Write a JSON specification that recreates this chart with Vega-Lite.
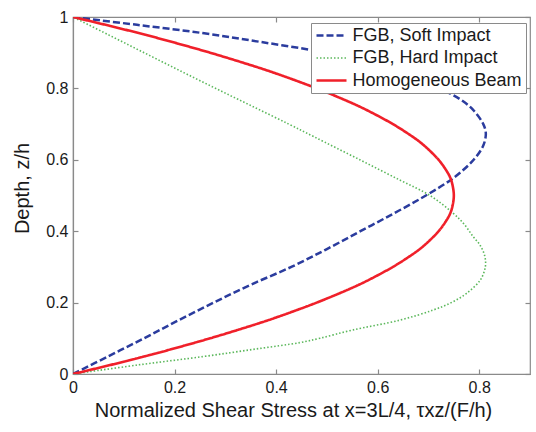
{
  "$schema": "https://vega.github.io/schema/vega-lite/v6.json",
  "width": 457,
  "height": 357,
  "autosize": {"type": "none"},
  "padding": {"left": 73, "top": 17, "right": 6, "bottom": 58},
  "background": "white",
  "config": {
    "font": "Liberation Sans",
    "view": {"stroke": "#8a8a8a", "strokeWidth": 1.2},
    "axis": {
      "grid": false,
      "labelFlush": false,
      "domainColor": "#8a8a8a",
      "domainWidth": 1.2,
      "tickColor": "#8a8a8a",
      "tickWidth": 1.2,
      "tickSize": -5,
      "labelFont": "Liberation Sans",
      "labelFontSize": 16,
      "labelColor": "#1a1a1a",
      "titleFont": "Liberation Sans",
      "titleFontSize": 20,
      "titleFontWeight": "normal",
      "titleColor": "#1a1a1a"
    },
    "legend": {
      "labelFont": "Liberation Sans",
      "labelFontSize": 18,
      "labelColor": "#1a1a1a",
      "labelLimit": 300
    }
  },
  "data": {
    "values": [
      {"s": "FGB, Soft Impact", "z": 0, "t": 0},
      {"s": "FGB, Soft Impact", "z": 0.05, "t": 0.07},
      {"s": "FGB, Soft Impact", "z": 0.1, "t": 0.14},
      {"s": "FGB, Soft Impact", "z": 0.15, "t": 0.207},
      {"s": "FGB, Soft Impact", "z": 0.2, "t": 0.277},
      {"s": "FGB, Soft Impact", "z": 0.25, "t": 0.35},
      {"s": "FGB, Soft Impact", "z": 0.3, "t": 0.43},
      {"s": "FGB, Soft Impact", "z": 0.35, "t": 0.5},
      {"s": "FGB, Soft Impact", "z": 0.4, "t": 0.566},
      {"s": "FGB, Soft Impact", "z": 0.45, "t": 0.632},
      {"s": "FGB, Soft Impact", "z": 0.5, "t": 0.695},
      {"s": "FGB, Soft Impact", "z": 0.55, "t": 0.75},
      {"s": "FGB, Soft Impact", "z": 0.6, "t": 0.789},
      {"s": "FGB, Soft Impact", "z": 0.64, "t": 0.808},
      {"s": "FGB, Soft Impact", "z": 0.674, "t": 0.813},
      {"s": "FGB, Soft Impact", "z": 0.7, "t": 0.808},
      {"s": "FGB, Soft Impact", "z": 0.74, "t": 0.788},
      {"s": "FGB, Soft Impact", "z": 0.77, "t": 0.762},
      {"s": "FGB, Soft Impact", "z": 0.8, "t": 0.722},
      {"s": "FGB, Soft Impact", "z": 0.83, "t": 0.67},
      {"s": "FGB, Soft Impact", "z": 0.86, "t": 0.605},
      {"s": "FGB, Soft Impact", "z": 0.88, "t": 0.55},
      {"s": "FGB, Soft Impact", "z": 0.903, "t": 0.486},
      {"s": "FGB, Soft Impact", "z": 0.93, "t": 0.37},
      {"s": "FGB, Soft Impact", "z": 0.955, "t": 0.255},
      {"s": "FGB, Soft Impact", "z": 0.978, "t": 0.126},
      {"s": "FGB, Soft Impact", "z": 1, "t": 0},

      {"s": "FGB, Hard Impact", "z": 0, "t": 0},
      {"s": "FGB, Hard Impact", "z": 0.025, "t": 0.126},
      {"s": "FGB, Hard Impact", "z": 0.049, "t": 0.257},
      {"s": "FGB, Hard Impact", "z": 0.07, "t": 0.36},
      {"s": "FGB, Hard Impact", "z": 0.088, "t": 0.447},
      {"s": "FGB, Hard Impact", "z": 0.1, "t": 0.486},
      {"s": "FGB, Hard Impact", "z": 0.123, "t": 0.55},
      {"s": "FGB, Hard Impact", "z": 0.151, "t": 0.644},
      {"s": "FGB, Hard Impact", "z": 0.179, "t": 0.709},
      {"s": "FGB, Hard Impact", "z": 0.2, "t": 0.745},
      {"s": "FGB, Hard Impact", "z": 0.226, "t": 0.775},
      {"s": "FGB, Hard Impact", "z": 0.263, "t": 0.802},
      {"s": "FGB, Hard Impact", "z": 0.3, "t": 0.812},
      {"s": "FGB, Hard Impact", "z": 0.33, "t": 0.811},
      {"s": "FGB, Hard Impact", "z": 0.36, "t": 0.802},
      {"s": "FGB, Hard Impact", "z": 0.385, "t": 0.788},
      {"s": "FGB, Hard Impact", "z": 0.42, "t": 0.77},
      {"s": "FGB, Hard Impact", "z": 0.45, "t": 0.749},
      {"s": "FGB, Hard Impact", "z": 0.5, "t": 0.703},
      {"s": "FGB, Hard Impact", "z": 0.543, "t": 0.644},
      {"s": "FGB, Hard Impact", "z": 0.6, "t": 0.565},
      {"s": "FGB, Hard Impact", "z": 0.665, "t": 0.474},
      {"s": "FGB, Hard Impact", "z": 0.7, "t": 0.425},
      {"s": "FGB, Hard Impact", "z": 0.75, "t": 0.353},
      {"s": "FGB, Hard Impact", "z": 0.8, "t": 0.281},
      {"s": "FGB, Hard Impact", "z": 0.85, "t": 0.21},
      {"s": "FGB, Hard Impact", "z": 0.9, "t": 0.14},
      {"s": "FGB, Hard Impact", "z": 0.95, "t": 0.07},
      {"s": "FGB, Hard Impact", "z": 1, "t": 0},

      {"s": "Homogeneous Beam", "z": 0, "t": 0},
      {"s": "Homogeneous Beam", "z": 0.025, "t": 0.073},
      {"s": "Homogeneous Beam", "z": 0.05, "t": 0.143},
      {"s": "Homogeneous Beam", "z": 0.075, "t": 0.208},
      {"s": "Homogeneous Beam", "z": 0.1, "t": 0.27},
      {"s": "Homogeneous Beam", "z": 0.125, "t": 0.328},
      {"s": "Homogeneous Beam", "z": 0.15, "t": 0.383},
      {"s": "Homogeneous Beam", "z": 0.175, "t": 0.433},
      {"s": "Homogeneous Beam", "z": 0.2, "t": 0.48},
      {"s": "Homogeneous Beam", "z": 0.225, "t": 0.523},
      {"s": "Homogeneous Beam", "z": 0.25, "t": 0.563},
      {"s": "Homogeneous Beam", "z": 0.275, "t": 0.598},
      {"s": "Homogeneous Beam", "z": 0.3, "t": 0.63},
      {"s": "Homogeneous Beam", "z": 0.325, "t": 0.658},
      {"s": "Homogeneous Beam", "z": 0.35, "t": 0.683},
      {"s": "Homogeneous Beam", "z": 0.375, "t": 0.703},
      {"s": "Homogeneous Beam", "z": 0.4, "t": 0.72},
      {"s": "Homogeneous Beam", "z": 0.425, "t": 0.733},
      {"s": "Homogeneous Beam", "z": 0.45, "t": 0.743},
      {"s": "Homogeneous Beam", "z": 0.475, "t": 0.748},
      {"s": "Homogeneous Beam", "z": 0.5, "t": 0.75},
      {"s": "Homogeneous Beam", "z": 0.525, "t": 0.748},
      {"s": "Homogeneous Beam", "z": 0.55, "t": 0.743},
      {"s": "Homogeneous Beam", "z": 0.575, "t": 0.733},
      {"s": "Homogeneous Beam", "z": 0.6, "t": 0.72},
      {"s": "Homogeneous Beam", "z": 0.625, "t": 0.703},
      {"s": "Homogeneous Beam", "z": 0.65, "t": 0.683},
      {"s": "Homogeneous Beam", "z": 0.675, "t": 0.658},
      {"s": "Homogeneous Beam", "z": 0.7, "t": 0.63},
      {"s": "Homogeneous Beam", "z": 0.725, "t": 0.598},
      {"s": "Homogeneous Beam", "z": 0.75, "t": 0.563},
      {"s": "Homogeneous Beam", "z": 0.775, "t": 0.523},
      {"s": "Homogeneous Beam", "z": 0.8, "t": 0.48},
      {"s": "Homogeneous Beam", "z": 0.825, "t": 0.433},
      {"s": "Homogeneous Beam", "z": 0.85, "t": 0.383},
      {"s": "Homogeneous Beam", "z": 0.875, "t": 0.328},
      {"s": "Homogeneous Beam", "z": 0.9, "t": 0.27},
      {"s": "Homogeneous Beam", "z": 0.925, "t": 0.208},
      {"s": "Homogeneous Beam", "z": 0.95, "t": 0.143},
      {"s": "Homogeneous Beam", "z": 0.975, "t": 0.073},
      {"s": "Homogeneous Beam", "z": 1, "t": 0}
    ]
  },
  "layer": [
    {
      "mark": {"type": "line", "interpolate": "catmull-rom", "clip": true},
      "encoding": {
        "x": {
          "field": "t", "type": "quantitative",
          "scale": {"domain": [0, 0.9], "nice": false, "zero": false},
          "axis": {
            "orient": "bottom",
            "values": [0, 0.2, 0.4, 0.6, 0.8],
            "format": "~g",
            "labelPadding": 10,
            "titlePadding": 5,
            "titleX": 220,
            "title": "Normalized Shear Stress at x=3L/4, τxz/(F/h)"
          }
        },
        "y": {
          "field": "z", "type": "quantitative",
          "scale": {"domain": [0, 1], "nice": false, "zero": false},
          "axis": {
            "orient": "left",
            "values": [0, 0.2, 0.4, 0.6, 0.8, 1],
            "format": "~g",
            "labelPadding": 10,
            "titlePadding": 13,
            "titleY": 171,
            "title": "Depth, z/h"
          }
        },
        "order": {"field": "z", "type": "quantitative"},
        "color": {
          "field": "s", "type": "nominal",
          "scale": {
            "domain": ["FGB, Soft Impact", "FGB, Hard Impact", "Homogeneous Beam"],
            "range": ["#2b3c9e", "#5cb85c", "#f0202a"]
          },
          "legend": {
            "title": null,
            "orient": "none",
            "legendX": 238,
            "legendY": 6,
            "symbolType": "M-3,0H3",
            "symbolSize": 100,
            "symbolOffset": 8,
            "labelOffset": 12,
            "rowPadding": 4.5,
            "padding": 3.5,
            "strokeColor": "#8a8a8a",
            "fillColor": "white",
            "cornerRadius": 0
          }
        },
        "strokeDash": {
          "field": "s", "type": "nominal",
          "scale": {
            "domain": ["FGB, Soft Impact", "FGB, Hard Impact", "Homogeneous Beam"],
            "range": [[7, 3], [1.5, 2], [1, 0]]
          },
          "legend": {"title": null}
        },
        "strokeWidth": {
          "field": "s", "type": "nominal",
          "scale": {
            "type": "ordinal",
            "domain": ["FGB, Soft Impact", "FGB, Hard Impact", "Homogeneous Beam"],
            "range": [2.5, 1.6, 2.6]
          },
          "legend": {"title": null}
        }
      }
    },
    {
      "mark": {"type": "line", "opacity": 0},
      "encoding": {
        "x": {
          "field": "t", "type": "quantitative",
          "axis": {"orient": "top", "values": [0, 0.2, 0.4, 0.6, 0.8], "labels": false, "title": null, "domain": false}
        },
        "y": {
          "field": "z", "type": "quantitative",
          "axis": {"orient": "right", "values": [0, 0.2, 0.4, 0.6, 0.8, 1], "labels": false, "title": null, "domain": false}
        },
        "order": {"field": "z", "type": "quantitative"}
      }
    }
  ],
  "resolve": {"axis": {"x": "independent", "y": "independent"}}
}
